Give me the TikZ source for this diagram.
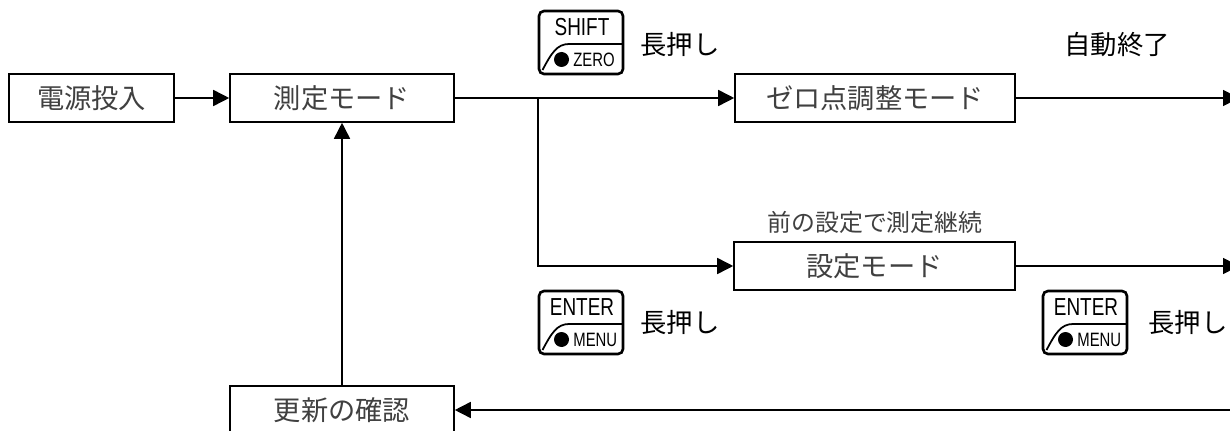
\documentclass[tikz,border=0pt]{standalone}
\usepackage{fontspec}
\setmainfont{Noto Sans CJK JP}
\newfontfamily\keyfont[FakeStretch=0.77]{Liberation Sans}
\usetikzlibrary{arrows.meta}
\tikzset{
    modebox/.style={draw,line width=0.9pt,fill=white,minimum height=0.96cm,inner sep=0pt,font=\fontsize{15.5}{15.5}\selectfont,text=black!75},
    flow/.style={line width=0.9pt,-{Triangle[length=0.32cm,width=0.32cm]}},
    presslabel/.style={inner sep=0pt,anchor=west,font=\fontsize{15}{15}\selectfont},
    keytop/.style={inner sep=0pt,font=\keyfont\fontsize{14}{14}\selectfont},
    keybottom/.style={inner sep=0pt,anchor=west,font=\keyfont\fontsize{11}{11}\selectfont},
}
% one key cap, #1 = lower left corner, #2 = upper text, #3 = lower text
\newcommand{\keycap}[3]{
    \begin{scope}[shift={#1}]
        \draw[line width=1.5pt,rounded corners=0.1cm] (0,0) rectangle (1.68,1.26);
        \draw[line width=1pt] (0.07,0.08) .. controls (0.25,0.42) and (0.36,0.6) .. (0.6,0.6) -- (1.66,0.6);
        \fill (0.45,0.29) circle (0.15);
        \node[keytop] at (0.86,0.93) {#2};
        \node[keybottom] at (0.68,0.29) {#3};
    \end{scope}
}
\begin{document}
\begin{tikzpicture}
    \useasboundingbox (0,0) rectangle (24.6,8.6);
    \node[modebox,minimum width=3.3cm] (power) at (1.83,6.64) {電源投入};
    \node[modebox,minimum width=4.48cm] (measure) at (6.84,6.64) {測定モード};
    \node[modebox,minimum width=5.6cm] (zero) at (17.5,6.64) {ゼロ点調整モード};
    \node[modebox,minimum width=5.62cm] (setting) at (17.49,3.28) {設定モード};
    \node[modebox,minimum width=4.48cm] (confirm) at (6.84,0.4) {更新の確認};
    \coordinate (branch) at (10.76,6.64);
    \coordinate (zeroend) at (24.78,6.64);
    \coordinate (settingend) at (24.78,3.28);
    \coordinate (backstart) at (24.7,0.4);
    \draw[flow] (power) -- (measure);
    \draw[flow] (measure) -- (zero);
    \draw[flow] (branch) |- (setting);
    \draw[flow] (zero) -- (zeroend);
    \draw[flow] (setting) -- (settingend);
    \draw[flow] (backstart) -- (confirm);
    \draw[flow] (confirm) -- (measure);
    \keycap{(10.78,7.12)}{SHIFT}{ZERO}
    \keycap{(10.78,1.52)}{ENTER}{MENU}
    \keycap{(20.86,1.52)}{ENTER}{MENU}
    \node[presslabel] (pressa) at (12.8,7.7) {長押し};
    \node[presslabel] (pressb) at (12.8,2.14) {長押し};
    \node[presslabel] (pressc) at (22.96,2.14) {長押し};
    \node[presslabel] (autoend) at (21.28,7.7) {自動終了};
    \node[inner sep=0pt,font=\fontsize{13.6}{13.6}\selectfont,text=black!75] (keep) at (17.5,4.16) {前の設定で測定継続};
\end{tikzpicture}
\end{document}
